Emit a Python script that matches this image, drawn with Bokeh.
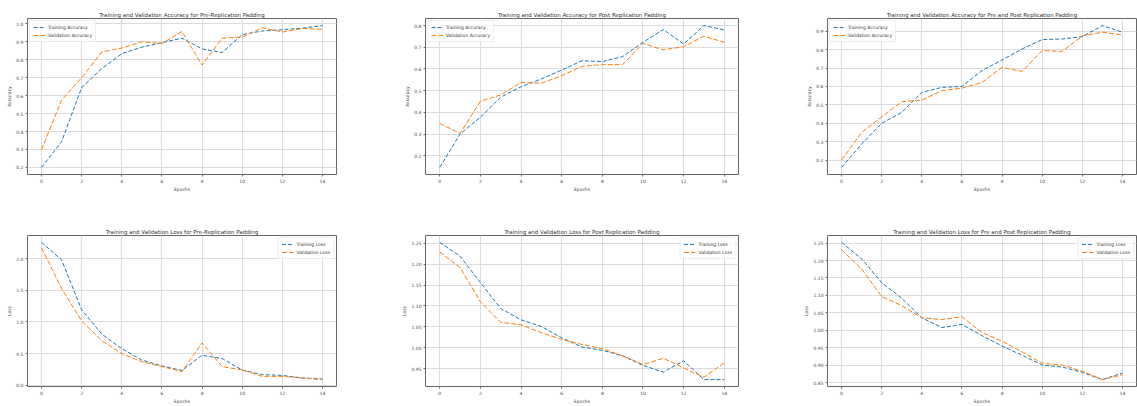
from bokeh.plotting import figure
from bokeh.layouts import column, row
from bokeh.models import Range1d, FixedTicker, PrintfTickFormatter, Legend, LegendItem
from bokeh.embed import file_html
from bokeh.resources import INLINE

epochs = list(range(15))
x_ticks = [0, 2, 4, 6, 8, 10, 12, 14]

pre_train_acc = [0.20, 0.344, 0.645, 0.75, 0.834, 0.87, 0.895, 0.92, 0.86, 0.84, 0.94, 0.96, 0.967, 0.976, 0.99]
pre_val_acc = [0.30, 0.575, 0.70, 0.843, 0.865, 0.90, 0.89, 0.957, 0.77, 0.92, 0.926, 0.978, 0.954, 0.974, 0.969]

post_train_acc = [0.146, 0.30, 0.377, 0.47, 0.518, 0.554, 0.595, 0.638, 0.634, 0.657, 0.723, 0.782, 0.715, 0.80, 0.78]
post_val_acc = [0.349, 0.303, 0.451, 0.48, 0.538, 0.534, 0.569, 0.612, 0.62, 0.62, 0.718, 0.688, 0.703, 0.751, 0.723]

both_train_acc = [0.16, 0.287, 0.40, 0.459, 0.568, 0.595, 0.60, 0.687, 0.744, 0.804, 0.855, 0.858, 0.871, 0.931, 0.895]
both_val_acc = [0.20, 0.35, 0.435, 0.517, 0.526, 0.577, 0.591, 0.622, 0.704, 0.682, 0.795, 0.791, 0.875, 0.895, 0.88]

pre_train_loss = [2.257, 1.98, 1.19, 0.807, 0.576, 0.396, 0.303, 0.231, 0.473, 0.42, 0.24, 0.165, 0.154, 0.113, 0.098]
pre_val_loss = [2.17, 1.527, 1.013, 0.704, 0.499, 0.37, 0.293, 0.216, 0.668, 0.293, 0.24, 0.139, 0.139, 0.113, 0.087]

post_train_loss = [1.252, 1.219, 1.156, 1.094, 1.067, 1.051, 1.024, 1.002, 0.994, 0.981, 0.958, 0.942, 0.969, 0.924, 0.924]
post_val_loss = [1.229, 1.192, 1.11, 1.061, 1.055, 1.036, 1.02, 1.008, 0.998, 0.981, 0.96, 0.975, 0.952, 0.93, 0.964]

both_train_loss = [1.252, 1.205, 1.137, 1.092, 1.036, 1.008, 1.017, 0.985, 0.955, 0.929, 0.901, 0.895, 0.88, 0.859, 0.878]
both_val_loss = [1.231, 1.176, 1.097, 1.071, 1.036, 1.031, 1.039, 0.994, 0.969, 0.938, 0.906, 0.901, 0.883, 0.859, 0.873]

acc_ticks_pre = [0.2, 0.3, 0.4, 0.5, 0.6, 0.7, 0.8, 0.9, 1.0]
acc_ticks_post = [0.2, 0.3, 0.4, 0.5, 0.6, 0.7, 0.8]
acc_ticks_both = [0.2, 0.3, 0.4, 0.5, 0.6, 0.7, 0.8, 0.9]
loss_ticks_pre = [0.0, 0.5, 1.0, 1.5, 2.0]
loss_ticks_post = [0.95, 1.00, 1.05, 1.10, 1.15, 1.20, 1.25]
loss_ticks_both = [0.85, 0.90, 0.95, 1.00, 1.05, 1.10, 1.15, 1.20, 1.25]

titles = [
    "Training and Validation Accuracy for Pre-Replication Padding",
    "Training and Validation Accuracy for Post Replication Padding",
    "Training and Validation Accuracy for Pre and Post Replication Padding",
    "Training and Validation Loss for Pre-Replication Padding",
    "Training and Validation Loss for Post Replication Padding",
    "Training and Validation Loss for Pre and Post Replication Padding",
]

FONT = "DejaVu Sans"
BLUE = "#1f77b4"
ORANGE = "#ff7f0e"

col_geom = [(380, 27, 44), (377, 45, 19), (380, 70, 1)]
row_geom = [(200, 18, 26), (206, 35, 16)]


def make(title, train, val, yticks, fmt, ylabel, names, loc, ci, ri):
    w, bl, br = col_geom[ci]
    h, bt, bb = row_geom[ri]
    lo = min(min(train), min(val))
    hi = max(max(train), max(val))
    pad = 0.05 * (hi - lo)
    p = figure(width=w, height=h, output_backend="svg", toolbar_location=None,
               x_range=Range1d(-0.7, 14.7), y_range=Range1d(lo - pad, hi + pad),
               min_border_left=bl, min_border_right=br, min_border_top=bt, min_border_bottom=bb)
    p.title.text = title
    p.title.align = "center"
    p.title.text_font = FONT
    p.title.text_font_size = "5.5px"
    p.title.text_font_style = "normal"
    p.title.text_color = "#333333"
    p.title.standoff = 1
    p.outline_line_color = "#666666"
    p.outline_line_width = 1
    p.background_fill_color = "white"
    p.border_fill_color = "white"

    p.xaxis.ticker = FixedTicker(ticks=x_ticks)
    p.yaxis.ticker = FixedTicker(ticks=yticks)
    p.yaxis.formatter = PrintfTickFormatter(format=fmt)
    p.xaxis.axis_label = "Epochs"
    p.yaxis.axis_label = ylabel
    for ax in (p.xaxis, p.yaxis):
        ax.axis_line_color = None
        ax.major_tick_line_color = "#666666"
        ax.major_tick_out = 2
        ax.major_tick_in = 0
        ax.minor_tick_line_color = None
        ax.major_label_text_font = FONT
        ax.major_label_text_font_size = "4.5px"
        ax.major_label_text_color = "#444444"
        ax.major_label_standoff = 2
        ax.axis_label_text_font = FONT
        ax.axis_label_text_font_size = "4.5px"
        ax.axis_label_text_font_style = "normal"
        ax.axis_label_text_color = "#444444"
        ax.axis_label_standoff = 1
    p.grid.grid_line_color = "#dcdcdc"
    p.grid.grid_line_width = 1

    r1 = p.line(epochs, train, line_color=BLUE, line_width=1, line_dash="4 2")
    r2 = p.line(epochs, val, line_color=ORANGE, line_width=1, line_dash="5 2")
    leg = Legend(items=[LegendItem(label=names[0], renderers=[r1]),
                        LegendItem(label=names[1], renderers=[r2])],
                 location=loc)
    leg.label_text_font = FONT
    leg.label_text_font_size = "4.5px"
    leg.label_text_color = "#333333"
    leg.label_height = 6
    leg.label_standoff = 3
    leg.glyph_height = 6
    leg.glyph_width = 12
    leg.spacing = 2
    leg.padding = 3
    leg.margin = 2
    leg.border_line_color = "#dddddd"
    leg.background_fill_alpha = 0.8
    p.add_layout(leg)
    return p


acc_names = ["Training Accuracy", "Validation Accuracy"]
loss_names = ["Training Loss", "Validation Loss"]

p1 = make(titles[0], pre_train_acc, pre_val_acc, acc_ticks_pre, "%.1f", "Accuracy", acc_names, "top_left", 0, 0)
p2 = make(titles[1], post_train_acc, post_val_acc, acc_ticks_post, "%.1f", "Accuracy", acc_names, "top_left", 1, 0)
p3 = make(titles[2], both_train_acc, both_val_acc, acc_ticks_both, "%.1f", "Accuracy", acc_names, "top_left", 2, 0)
p4 = make(titles[3], pre_train_loss, pre_val_loss, loss_ticks_pre, "%.1f", "Loss", loss_names, "top_right", 0, 1)
p5 = make(titles[4], post_train_loss, post_val_loss, loss_ticks_post, "%.2f", "Loss", loss_names, "top_right", 1, 1)
p6 = make(titles[5], both_train_loss, both_val_loss, loss_ticks_both, "%.2f", "Loss", loss_names, "top_right", 2, 1)

layout = column(row(p1, p2, p3), row(p4, p5, p6))
open("out.html", "w").write(file_html(layout, INLINE))
